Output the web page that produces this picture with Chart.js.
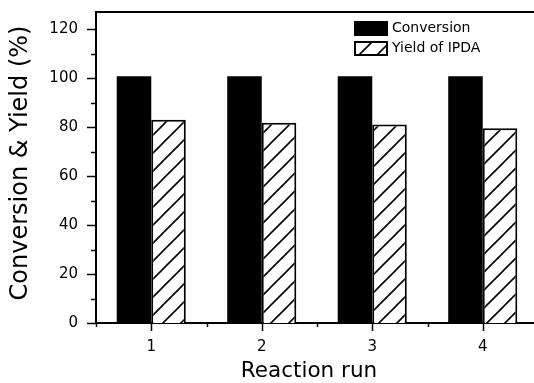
<!DOCTYPE html>
<html>
<head>
<meta charset="utf-8">
<script src="https://cdn.jsdelivr.net/npm/chart.js@4/dist/chart.umd.min.js"></script>
<style>
  html, body { margin: 0; padding: 0; background: #fff; overflow: hidden; }
  #wrap { width: 534px; height: 383px; overflow: hidden; }
  canvas { display: block; }
</style>
</head>
<body>
<div id="wrap"><canvas id="chart" width="544" height="383"></canvas></div>
<script>
// datos
const runs = ['1', '2', '3', '4'];
const conversion = [100.8, 100.8, 100.8, 100.8];
const yieldIPDA = [83.0, 81.8, 81.1, 79.5];
const yTicks = [0, 20, 40, 60, 80, 100, 120];
const xTitle = 'Reaction run';
const yTitle = 'Conversion & Yield (%)';

const FONT = "'DejaVu Sans', sans-serif";

// trama diagonal para la serie de rendimiento
function hatchPattern(ctx) {
  const s = 18;
  const c = document.createElement('canvas');
  c.width = s;
  c.height = s;
  const g = c.getContext('2d');
  g.fillStyle = '#fff';
  g.fillRect(0, 0, s, s);
  g.strokeStyle = '#000';
  g.lineWidth = 1.6;
  g.beginPath();
  g.moveTo(-2, s + 2);
  g.lineTo(s + 2, -2);
  g.moveTo(-2, 2);
  g.lineTo(2, -2);
  g.moveTo(s - 2, s + 2);
  g.lineTo(s + 2, s - 2);
  g.stroke();
  return ctx.createPattern(c, 'repeat');
}

const canvas = document.getElementById('chart');
const ctx = canvas.getContext('2d');
const hatch = hatchPattern(ctx);

// marcas de los ejes, titulos, leyenda y marco superior
const decoPlugin = {
  id: 'deco',
  afterDraw(chart) {
    const { ctx, chartArea, scales } = chart;
    const x = scales.x;
    const y = scales.y;
    ctx.save();
    ctx.strokeStyle = '#000';
    ctx.lineWidth = 2;

    // linea superior del marco
    ctx.beginPath();
    ctx.moveTo(chartArea.left - 1, chartArea.top);
    ctx.lineTo(chartArea.right, chartArea.top);
    ctx.stroke();

    // ticks eje y
    ctx.lineWidth = 1.5;
    for (let v = 0; v <= 120; v += 10) {
      const py = Math.round(y.getPixelForValue(v)) + 0.5;
      const len = v % 20 === 0 ? 9 : 5;
      ctx.beginPath();
      ctx.moveTo(chartArea.left - len, py);
      ctx.lineTo(chartArea.left, py);
      ctx.stroke();
    }

    // ticks eje x (mayores en cada corrida, menores entre ellas)
    const n = runs.length;
    for (let i = 0; i < n; i++) {
      const px = Math.round(x.getPixelForValue(i)) + 0.5;
      ctx.beginPath();
      ctx.moveTo(px, chartArea.bottom);
      ctx.lineTo(px, chartArea.bottom + 8);
      ctx.stroke();
    }
    for (let i = 0; i <= n; i++) {
      const px = Math.round(x.getPixelForValue(i - 0.5)) + 0.5;
      ctx.beginPath();
      ctx.moveTo(px, chartArea.bottom);
      ctx.lineTo(px, chartArea.bottom + 4);
      ctx.stroke();
    }

    // titulos de ejes
    ctx.fillStyle = '#000';
    ctx.textAlign = 'center';
    ctx.textBaseline = 'middle';
    ctx.font = '21.5px ' + FONT;
    ctx.fillText(xTitle, 309, 371);
    ctx.save();
    ctx.translate(21, 163);
    ctx.rotate(-Math.PI / 2);
    ctx.font = '24px ' + FONT;
    ctx.fillText(yTitle, 0, 0);
    ctx.restore();

    // leyenda
    const items = chart.data.datasets.map((ds) => ({ label: ds.label, fill: ds.backgroundColor }));
    const lx = 354;
    let ly = 21;
    const bw = 34;
    const bh = 15;
    ctx.font = '14px ' + FONT;
    ctx.textAlign = 'left';
    ctx.textBaseline = 'middle';
    items.forEach((it) => {
      ctx.fillStyle = it.fill;
      ctx.fillRect(lx, ly, bw, bh);
      ctx.lineWidth = 2;
      ctx.strokeRect(lx + 1, ly + 1, bw - 2, bh - 2);
      ctx.fillStyle = '#000';
      ctx.fillText(it.label, lx + bw + 4, ly + bh / 2);
      ly += 20;
    });
    ctx.restore();
  },
};

new Chart(ctx, {
  type: 'bar',
  data: {
    labels: runs,
    datasets: [
      {
        label: 'Conversion',
        data: conversion,
        backgroundColor: '#000',
        borderWidth: 0,
        categoryPercentage: 0.625,
        barPercentage: 1.0,
      },
      {
        label: 'Yield of IPDA',
        data: yieldIPDA,
        backgroundColor: hatch,
        borderColor: '#000',
        borderWidth: 2,
        categoryPercentage: 0.625,
        barPercentage: 1.0,
      },
    ],
  },
  plugins: [decoPlugin],
  options: {
    responsive: false,
    animation: false,
    devicePixelRatio: 1,
    layout: { padding: { top: 12, right: 6, left: 0, bottom: 0 } },
    plugins: {
      legend: { display: false },
      tooltip: { enabled: false },
    },
    scales: {
      x: {
        offset: true,
        grid: { display: false },
        border: { display: true, color: '#000', width: 2 },
        ticks: { color: '#000', font: { family: FONT, size: 15 }, padding: 7 },
        afterFit(scale) {
          scale.height = 60;
          scale.paddingLeft = 0;
          scale.paddingRight = 0;
        },
      },
      y: {
        min: 0,
        max: 127,
        grid: { display: false },
        border: { display: true, color: '#000', width: 2 },
        afterBuildTicks(scale) {
          scale.ticks = yTicks.map((v) => ({ value: v }));
        },
        ticks: { color: '#000', font: { family: FONT, size: 15 }, padding: 10 },
        afterFit(scale) {
          scale.width = 96;
          scale.paddingTop = 0;
          scale.paddingBottom = 0;
        },
      },
    },
  },
});
</script>
</body>
</html>
